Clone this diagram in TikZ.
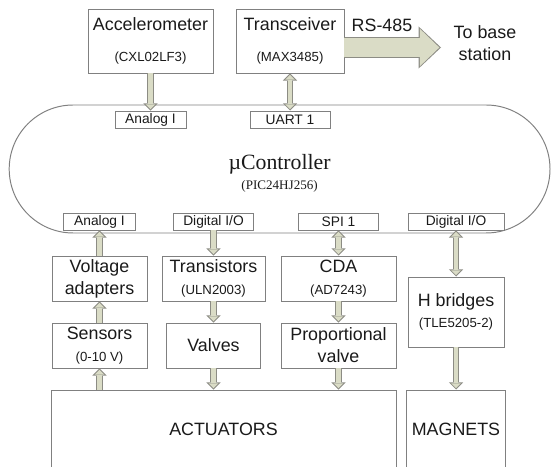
\documentclass[tikz,border=0pt]{standalone}
\usepackage{fontspec}
\setmainfont{Liberation Sans}
\newfontfamily\serifface{Liberation Serif}
\usetikzlibrary{arrows.meta, positioning}

\definecolor{boxline}{HTML}{808080}
\definecolor{arrline}{HTML}{8C8C84}
\definecolor{arrfill}{HTML}{DADCC6}
\definecolor{ink}{HTML}{1A1A1A}

\newcommand{\mainsz}{\fontsize{12.7pt}{15.5pt}\selectfont}
\newcommand{\subsz}{\fontsize{9.4pt}{11pt}\selectfont}
\newcommand{\tagsz}{\fontsize{9.8pt}{11pt}\selectfont}

\begin{document}
\begin{tikzpicture}[
        block/.style={draw=boxline, line width=0.7pt, align=center, text=ink,
                      font=\mainsz, inner sep=0pt},
        port/.style={draw=boxline, line width=0.7pt, font=\tagsz, text=ink,
                     minimum height=0.425cm, inner sep=0pt},
        outtip/.tip={Triangle[length=5pt, width=10pt, line width=0pt]},
        intip/.tip={Triangle[length=3.4pt, width=7pt, line width=0pt]},
        arr/.style={preaction={draw=arrline, line width=4.3pt, shorten >=0pt, -outtip},
                    draw=arrfill, line width=2.9pt, shorten >=1pt, -intip},
        arrboth/.style={preaction={draw=arrline, line width=4.3pt, shorten >=0pt,
                        shorten <=0pt, outtip-outtip},
                        draw=arrfill, line width=2.9pt, shorten >=1pt, shorten <=1pt, intip-intip},
        bigarr/.style={preaction={draw=arrline, line width=15.6pt, shorten >=0pt,
                       -{Triangle[length=16pt, width=30pt, line width=0pt]}},
                       draw=arrfill, line width=14.2pt, shorten >=1.2pt,
                       -{Triangle[length=13.8pt, width=26.6pt, line width=0pt]}}
    ]
        \useasboundingbox (0,0) rectangle (13.775,-11.675);

        % top row
        \node[block, minimum width=3.125cm, minimum height=1.6cm] (accel) at (3.7625, -1.025)
            {Accelerometer\\[6pt]{\subsz (CXL02LF3)}};
        \node[block, minimum width=2.7cm, minimum height=1.6cm] (xcvr) at (7.25, -1.025)
            {Transceiver\\[6pt]{\subsz (MAX3485)}};
        \coordinate (bs) at (11.025, -1.1875);
        \node[font=\mainsz, text=ink] (rs) at (9.55, -0.625) {RS-485};
        \node[font=\mainsz, text=ink, align=center] (base) at (12.125, -1.075) {To base\\station};

        % microcontroller
        \node[draw=boxline, line width=0.7pt, rounded corners=1.6cm, minimum width=13.52cm,
              minimum height=3.2cm] (mcu) at (6.99, -4.225) {};
        \node[align=center, text=ink, inner sep=0pt,
              font={\serifface\fontsize{15.5pt}{17pt}\selectfont}] (mcuname) at (6.99, -4.33)
            {µController\\[-3pt]{\fontsize{9.3pt}{11pt}\selectfont (PIC24HJ256)}};
        \node[port, minimum width=1.775cm] (ain) at (3.7625, -2.9875) {Analog I};
        \node[port, minimum width=2cm] (uart) at (7.25, -2.9875) {UART 1};
        \node[port, minimum width=1.8cm] (ain2) at (2.4875, -5.5375) {Analog I};
        \node[port, minimum width=2cm] (dio1) at (5.3375, -5.5375) {Digital I/O};
        \node[port, minimum width=2cm] (spi) at (8.4625, -5.5375) {SPI 1};
        \node[port, minimum width=2.4cm] (dio2) at (11.4, -5.5375) {Digital I/O};

        % interface blocks
        \node[block, minimum width=2.375cm, minimum height=1.125cm] (volt) at (2.4875, -6.9625)
            {Voltage\\adapters};
        \node[block, minimum width=2.575cm, minimum height=1.125cm] (drv) at (5.3375, -6.9625)
            {Transistors\\{\subsz (ULN2003)}};
        \node[block, minimum width=2.875cm, minimum height=1.125cm] (cda) at (8.4625, -6.9625)
            {CDA\\{\subsz (AD7243)}};
        \node[block, minimum width=2.375cm, minimum height=1.125cm] (sens) at (2.4875, -8.6375)
            {Sensors\\{\subsz (0-10 V)}};
        \node[block, minimum width=2.35cm, minimum height=1.125cm] (valves) at (5.3375, -8.6375)
            {Valves};
        \node[block, minimum width=2.875cm, minimum height=1.125cm] (prop) at (8.4625, -8.6375)
            {Proportional\\valve};
        \node[block, minimum width=2.4cm, minimum height=1.75cm] (hbr) at (11.4, -7.8)
            {H bridges\\{\subsz (TLE5205-2)}};
        \node[block, minimum width=8.625cm, minimum height=1.975cm] (act) at (5.5875, -10.7375)
            {ACTUATORS};
        \node[block, minimum width=2.475cm, minimum height=1.975cm] (magn) at (11.4, -10.7375)
            {MAGNETS};

        % connections
        \draw[bigarr] (xcvr.east |- bs) -- (bs);
        \foreach \a/\b in {accel/ain, volt/ain2, sens/volt, dio1/drv, drv/valves, cda/prop, hbr/magn}
            \draw[arr] (\a) -- (\b);
        \foreach \a/\b in {xcvr/uart, spi/cda, dio2/hbr}
            \draw[arrboth] (\a) -- (\b);
        \draw[arr] (sens |- act.north) -- (sens);
        \draw[arr] (valves) -- (valves |- act.north);
        \draw[arr] (prop) -- (prop |- act.north);
    \end{tikzpicture}
\end{document}
